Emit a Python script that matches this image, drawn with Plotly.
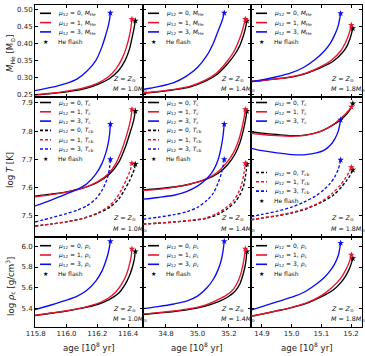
import plotly.graph_objects as go
from plotly.subplots import make_subplots

# ---------------- data (ages in 1e8 yr) ----------------
# M = 1.0 Msun
age_10_mu0 = [115.795, 115.9, 116.0, 116.1, 116.2, 116.28, 116.34, 116.38, 116.41, 116.43, 116.44, 116.447]
mhe_10_mu0 = [0.250, 0.254, 0.259, 0.266, 0.280, 0.298, 0.322, 0.350, 0.385, 0.425, 0.447, 0.466]
tc_10_mu0 = [7.570, 7.577, 7.585, 7.597, 7.618, 7.648, 7.690, 7.740, 7.790, 7.825, 7.848, 7.871]
tcb_10_mu0 = [7.464, 7.471, 7.479, 7.490, 7.508, 7.530, 7.560, 7.595, 7.625, 7.650, 7.665, 7.683]
rho_10_mu0 = [5.334, 5.356, 5.377, 5.405, 5.440, 5.490, 5.550, 5.630, 5.720, 5.810, 5.870, 5.949]

age_10_mu1 = [115.795, 115.9, 116.0, 116.1, 116.2, 116.27, 116.32, 116.36, 116.39, 116.41, 116.42, 116.425]
mhe_10_mu1 = [0.251, 0.255, 0.261, 0.269, 0.284, 0.302, 0.325, 0.355, 0.390, 0.425, 0.450, 0.471]
tc_10_mu1 = [7.567, 7.575, 7.584, 7.597, 7.620, 7.648, 7.685, 7.735, 7.785, 7.825, 7.852, 7.877]
tcb_10_mu1 = [7.463, 7.471, 7.479, 7.490, 7.510, 7.532, 7.560, 7.595, 7.630, 7.655, 7.672, 7.686]
rho_10_mu1 = [5.336, 5.358, 5.380, 5.408, 5.448, 5.500, 5.560, 5.640, 5.730, 5.830, 5.900, 5.974]

age_10_mu3 = [115.795, 115.9, 116.0, 116.07, 116.13, 116.19, 116.23, 116.255, 116.27, 116.28, 116.285]
mhe_10_mu3 = [0.2625, 0.272, 0.284, 0.297, 0.318, 0.350, 0.390, 0.425, 0.449, 0.470, 0.489]
tc_10_mu3 = [7.535, 7.556, 7.578, 7.594, 7.613, 7.648, 7.685, 7.722, 7.755, 7.790, 7.825]
tcb_10_mu3 = [7.478, 7.493, 7.508, 7.520, 7.535, 7.560, 7.590, 7.618, 7.643, 7.672, 7.700]
rho_10_mu3 = [5.390, 5.435, 5.481, 5.520, 5.574, 5.665, 5.760, 5.855, 5.930, 6.000, 6.047]

# M = 1.4 Msun
age_14_mu0 = [34.654, 34.75, 34.85, 34.95, 35.05, 35.13, 35.19, 35.24, 35.27, 35.29, 35.305, 35.314]
mhe_14_mu0 = [0.255, 0.259, 0.265, 0.273, 0.290, 0.312, 0.340, 0.370, 0.395, 0.420, 0.445, 0.466]
tc_14_mu0 = [7.592, 7.596, 7.602, 7.612, 7.628, 7.650, 7.680, 7.720, 7.760, 7.800, 7.840, 7.871]
tcb_14_mu0 = [7.471, 7.474, 7.478, 7.483, 7.490, 7.505, 7.525, 7.550, 7.575, 7.600, 7.640, 7.683]
rho_14_mu0 = [5.344, 5.358, 5.373, 5.393, 5.425, 5.465, 5.510, 5.570, 5.640, 5.730, 5.830, 5.949]

age_14_mu1 = [34.654, 34.75, 34.85, 34.95, 35.05, 35.12, 35.18, 35.23, 35.26, 35.28, 35.295, 35.304]
mhe_14_mu1 = [0.256, 0.260, 0.266, 0.275, 0.293, 0.313, 0.343, 0.375, 0.405, 0.430, 0.455, 0.471]
tc_14_mu1 = [7.590, 7.594, 7.601, 7.612, 7.630, 7.652, 7.685, 7.725, 7.765, 7.805, 7.845, 7.877]
tcb_14_mu1 = [7.470, 7.474, 7.478, 7.484, 7.492, 7.507, 7.528, 7.555, 7.582, 7.610, 7.650, 7.686]
rho_14_mu1 = [5.348, 5.362, 5.378, 5.400, 5.435, 5.480, 5.525, 5.590, 5.670, 5.760, 5.870, 5.974]

age_14_mu3 = [34.654, 34.75, 34.85, 34.93, 35.0, 35.06, 35.10, 35.13, 35.15, 35.162, 35.170]
mhe_14_mu3 = [0.266, 0.274, 0.286, 0.305, 0.330, 0.365, 0.400, 0.435, 0.458, 0.475, 0.489]
tc_14_mu3 = [7.559, 7.565, 7.573, 7.586, 7.605, 7.632, 7.660, 7.697, 7.742, 7.782, 7.825]
tcb_14_mu3 = [7.488, 7.495, 7.504, 7.514, 7.530, 7.555, 7.580, 7.615, 7.648, 7.675, 7.700]
rho_14_mu3 = [5.400, 5.420, 5.445, 5.472, 5.520, 5.600, 5.680, 5.770, 5.860, 5.950, 6.047]

# M = 1.8 Msun
age_18_mu0 = [14.863, 14.9, 14.95, 15.0, 15.05, 15.1, 15.14, 15.17, 15.185, 15.197, 15.206]
mhe_18_mu0 = [0.289, 0.292, 0.297, 0.302, 0.313, 0.330, 0.348, 0.372, 0.390, 0.415, 0.444]
tc_18_mu0 = [7.798, 7.793, 7.788, 7.784, 7.787, 7.800, 7.822, 7.845, 7.860, 7.877, 7.898]
tcb_18_mu0 = [7.486, 7.492, 7.500, 7.510, 7.525, 7.548, 7.573, 7.605, 7.625, 7.643, 7.663]
rho_18_mu0 = [5.327, 5.348, 5.378, 5.410, 5.450, 5.515, 5.580, 5.665, 5.730, 5.800, 5.883]

age_18_mu1 = [14.863, 14.9, 14.95, 15.0, 15.05, 15.1, 15.135, 15.165, 15.18, 15.192, 15.201]
mhe_18_mu1 = [0.289, 0.292, 0.297, 0.303, 0.314, 0.333, 0.352, 0.378, 0.400, 0.425, 0.4535]
tc_18_mu1 = [7.792, 7.788, 7.784, 7.782, 7.786, 7.800, 7.820, 7.845, 7.860, 7.873, 7.886]
tcb_18_mu1 = [7.486, 7.492, 7.501, 7.512, 7.527, 7.551, 7.578, 7.610, 7.632, 7.652, 7.672]
rho_18_mu1 = [5.327, 5.349, 5.380, 5.413, 5.455, 5.525, 5.600, 5.690, 5.760, 5.830, 5.916]

age_18_mu3 = [14.863, 14.9, 14.95, 15.0, 15.04, 15.08, 15.11, 15.13, 15.145, 15.157, 15.165]
mhe_18_mu3 = [0.289, 0.294, 0.303, 0.315, 0.330, 0.354, 0.378, 0.400, 0.425, 0.452, 0.4875]
tc_18_mu3 = [7.739, 7.731, 7.723, 7.717, 7.716, 7.722, 7.733, 7.750, 7.772, 7.800, 7.840]
tcb_18_mu3 = [7.497, 7.505, 7.516, 7.531, 7.548, 7.570, 7.594, 7.615, 7.638, 7.665, 7.698]
rho_18_mu3 = [5.386, 5.420, 5.465, 5.510, 5.555, 5.630, 5.700, 5.765, 5.830, 5.910, 6.030]

mass_labels = ["1.0", "1.4", "1.8"]
mu_values = ["0", "1", "3"]
x_ranges = [[115.795, 116.497], [34.654, 35.34], [14.863, 15.237]]
x_tick0 = [115.8, 34.8, 14.9]
x_dtick = [0.2, 0.2, 0.1]
y_ranges = [[0.244, 0.512], [7.425, 7.921], [5.224, 6.088]]
y_tick0 = [0.25, 7.5, 5.4]
y_dtick = [0.05, 0.1, 0.2]
y_fmt = [".2f", ".1f", ".1f"]

# ---------------- styling ----------------
BLACK = "#000000"
RED = "#e8142f"
BLUE = "#0c0cf0"
COLORS = [BLACK, RED, BLUE]
FONT = "DejaVu Sans"
W, H = 365, 356
ML, MR, MT, MB = 35, 3, 5, 29
col_px = [108, 108, 111]
row_px = [92, 140, 90]
col_left = [ML, ML + col_px[0], ML + col_px[0] + col_px[1]]
row_top = [MT, MT + row_px[0], MT + row_px[0] + row_px[1]]
PW = W - ML - MR
PH = H - MT - MB


def P(xpx, ypx):
    return (xpx - ML) / PW, 1 - (ypx - MT) / PH


models = [
    [(age_10_mu0, mhe_10_mu0, tc_10_mu0, tcb_10_mu0, rho_10_mu0),
     (age_10_mu1, mhe_10_mu1, tc_10_mu1, tcb_10_mu1, rho_10_mu1),
     (age_10_mu3, mhe_10_mu3, tc_10_mu3, tcb_10_mu3, rho_10_mu3)],
    [(age_14_mu0, mhe_14_mu0, tc_14_mu0, tcb_14_mu0, rho_14_mu0),
     (age_14_mu1, mhe_14_mu1, tc_14_mu1, tcb_14_mu1, rho_14_mu1),
     (age_14_mu3, mhe_14_mu3, tc_14_mu3, tcb_14_mu3, rho_14_mu3)],
    [(age_18_mu0, mhe_18_mu0, tc_18_mu0, tcb_18_mu0, rho_18_mu0),
     (age_18_mu1, mhe_18_mu1, tc_18_mu1, tcb_18_mu1, rho_18_mu1),
     (age_18_mu3, mhe_18_mu3, tc_18_mu3, tcb_18_mu3, rho_18_mu3)],
]

fig = make_subplots(rows=3, cols=3, column_widths=col_px, row_heights=row_px,
                    horizontal_spacing=0, vertical_spacing=0)

LW = 1.35
DASH = "3px,2px"


def add_curve(x, y, color, row, col, dash="solid"):
    fig.add_trace(go.Scatter(x=x, y=y, mode="lines",
                             line=dict(color=color, width=LW, dash=dash, shape="spline", smoothing=0.8),
                             showlegend=False, hoverinfo="skip"), row=row, col=col)
    fig.add_trace(go.Scatter(x=[x[-1]], y=[y[-1]], mode="markers",
                             marker=dict(symbol="star", size=5, color=color, line=dict(width=0)),
                             showlegend=False, hoverinfo="skip"), row=row, col=col)


for c in range(3):
    for k in range(3):
        age, mhe, tc, tcb, rho = models[c][k]
        add_curve(age, mhe, COLORS[k], 1, c + 1)
        add_curve(age, tc, COLORS[k], 2, c + 1)
        add_curve(age, rho, COLORS[k], 3, c + 1)
    for k in range(3):
        age, mhe, tc, tcb, rho = models[c][k]
        add_curve(age, tcb, COLORS[k], 2, c + 1, dash=DASH)

# axes
for r in range(3):
    for c in range(3):
        fig.update_xaxes(row=r + 1, col=c + 1, range=x_ranges[c], tickmode="linear",
                         tick0=x_tick0[c], dtick=x_dtick[c], tickformat=".1f",
                         showticklabels=(r == 2), ticks="inside", ticklen=3, tickwidth=0.8,
                         tickcolor="black", showline=True, linecolor="black", linewidth=0.9,
                         mirror="allticks", showgrid=False, zeroline=False,
                         tickfont=dict(size=7, family=FONT, color="#222"))
        fig.update_yaxes(row=r + 1, col=c + 1, range=y_ranges[r], tickmode="linear",
                         tick0=y_tick0[r], dtick=y_dtick[r], tickformat=y_fmt[r],
                         showticklabels=(c == 0), ticks="inside", ticklen=3, tickwidth=0.8,
                         tickcolor="black", showline=True, linecolor="black", linewidth=0.9,
                         mirror="allticks", showgrid=False, zeroline=False,
                         tickfont=dict(size=7, family=FONT, color="#222"))

annotations = []
shapes = []
LFS = 6


def legend_entry(left, ypx, label, color=None, dash="solid", star=False):
    if star:
        x, y = P(left + 10.5, ypx)
        annotations.append(dict(x=x, y=y, xref="paper", yref="paper", text="★", showarrow=False,
                                xanchor="center", yanchor="middle",
                                font=dict(size=6, color="black", family=FONT)))
    else:
        x0, y0 = P(left + 5, ypx)
        x1, _ = P(left + 16, ypx)
        shapes.append(dict(type="line", xref="paper", yref="paper", x0=x0, x1=x1, y0=y0, y1=y0,
                           line=dict(color=color, width=1.6, dash=dash)))
    xt, yt = P(left + 21, ypx)
    annotations.append(dict(x=xt, y=yt, xref="paper", yref="paper", text=label, showarrow=False,
                            xanchor="left", yanchor="middle",
                            font=dict(size=LFS, color="#111", family=FONT)))


MU = "<i>μ</i><sub>12</sub> = "
SP = 9.3
for c in range(3):
    left = col_left[c]
    # row 1
    for k in range(3):
        legend_entry(left, row_top[0] + 8.3 + SP * k, MU + mu_values[k] + ", <i>M</i><sub>He</sub>", COLORS[k])
    legend_entry(left, row_top[0] + 8.3 + SP * 3, "He flash", star=True)
    # row 2
    y0 = row_top[1] + 5.5
    for k in range(3):
        legend_entry(left, y0 + SP * k, MU + mu_values[k] + ", <i>T</i><sub>c</sub>", COLORS[k])
    y1 = y0 + SP * 3 if c < 2 else row_top[1] + 75.5
    for k in range(3):
        legend_entry(left, y1 + SP * k, MU + mu_values[k] + ", <i>T</i><sub>cb</sub>", COLORS[k], dash=DASH)
    legend_entry(left, y1 + SP * 3, "He flash", star=True)
    # row 3
    for k in range(3):
        legend_entry(left, row_top[2] + 8.7 + SP * k, MU + mu_values[k] + ", <i>ρ</i><sub>c</sub>", COLORS[k])
    legend_entry(left, row_top[2] + 8.7 + SP * 3, "He flash", star=True)

    # Z / M labels
    for r in range(3):
        bottom = row_top[r] + row_px[r]
        xz, yz = P(left + 0.7 * col_px[c], bottom - 18.5)
        annotations.append(dict(x=xz, y=yz, xref="paper", yref="paper",
                                text="<i>Z</i> = <i>Z</i><sub>⊙</sub>", showarrow=False,
                                xanchor="left", yanchor="middle",
                                font=dict(size=6.3, color="#111", family=FONT)))
        xm, ym = P(left + 0.7 * col_px[c], bottom - 8.5)
        annotations.append(dict(x=xm, y=ym, xref="paper", yref="paper",
                                text="<i>M</i> = " + mass_labels[c] + "<i>M</i><sub>⊙</sub>", showarrow=False,
                                xanchor="left", yanchor="middle",
                                font=dict(size=6.3, color="#111", family=FONT)))
    # x titles
    xa, ya = P(left + col_px[c] / 2, 346.5)
    annotations.append(dict(x=xa, y=ya, xref="paper", yref="paper",
                            text="age [10<sup>8</sup> yr]", showarrow=False,
                            xanchor="center", yanchor="middle",
                            font=dict(size=8.6, color="#222", family=FONT)))

y_titles = ["<i>M</i><sub>He</sub> [M<sub>⊙</sub>]", "log <i>T</i> [K]",
            "log <i>ρ</i><sub>c</sub> [g/cm<sup>3</sup>]"]
y_title_centers = [53, 170, 287]
for r in range(3):
    xa, ya = P(10, y_title_centers[r])
    annotations.append(dict(x=xa, y=ya, xref="paper", yref="paper", text=y_titles[r],
                            showarrow=False, textangle=-90, xanchor="center", yanchor="middle",
                            font=dict(size=8.6, color="#222", family=FONT)))

fig.update_layout(width=W, height=H, margin=dict(l=ML, r=MR, t=MT, b=MB),
                  paper_bgcolor="white", plot_bgcolor="white", showlegend=False,
                  annotations=annotations, shapes=shapes,
                  font=dict(family=FONT, size=7, color="#222"))

fig.write_html("out.html", config={"displayModeBar": False},
               post_script="document.body.style.margin='0px';document.body.style.overflow='hidden';")
